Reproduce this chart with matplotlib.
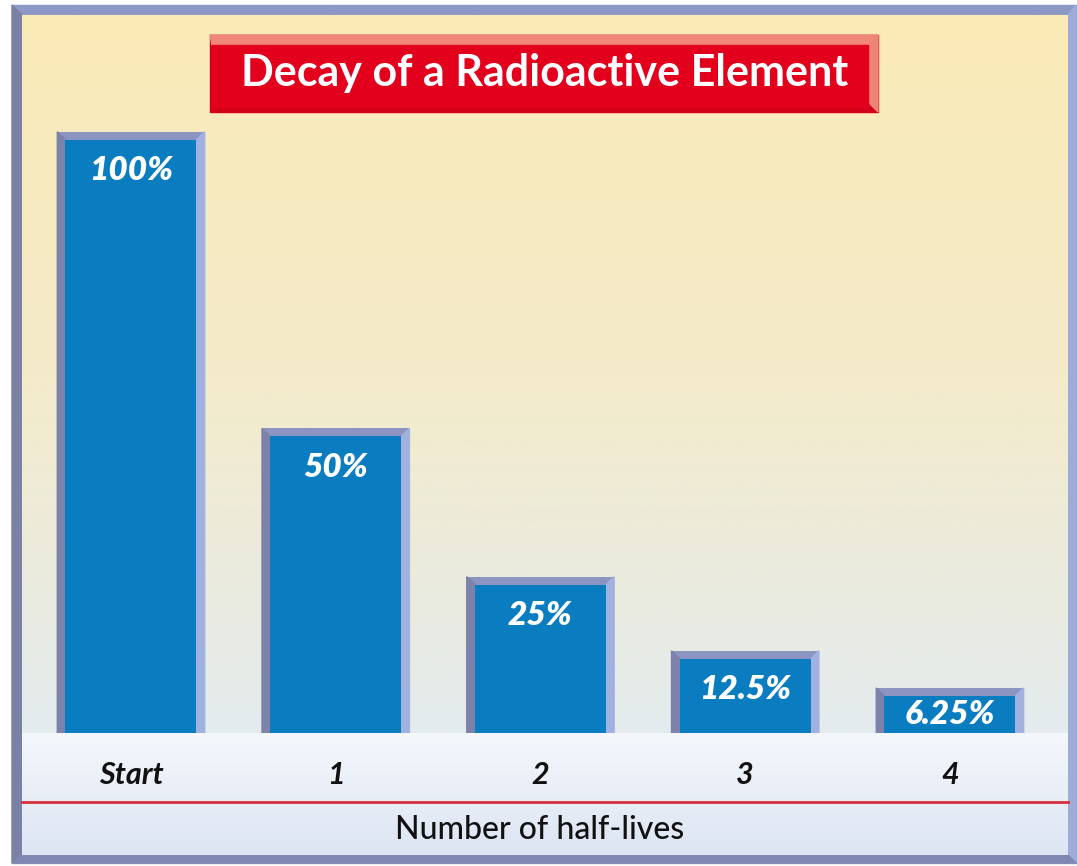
import matplotlib.pyplot as plt
import numpy as np
from matplotlib.colors import LinearSegmentedColormap
from matplotlib.patches import Rectangle, Polygon

plt.rcParams['font.family'] = ['Lato', 'DejaVu Sans']

# Fraction of the original element left after each half-life
steps = ['Start', '1', '2', '3', '4']
percent = [100, 50, 25, 12.5, 6.25]
value_labels = ['100%', '50%', '25%', '12.5%', '6.25%']

W, H = 1077, 866
fig = plt.figure(figsize=(W / 100, H / 100), dpi=100)

# background layer in pixel units (frame, gradients, title banner)
bg = fig.add_axes([0, 0, 1, 1])
bg.set_xlim(0, W)
bg.set_ylim(H, 0)
bg.axis('off')

bg.add_patch(Rectangle((0, 0), W, H, color='white', zorder=0))
# frame: darker on the left/bottom, lighter on top/right
bg.add_patch(Rectangle((12, 5), 1064, 858, color='#8e98c4', zorder=1))
bg.add_patch(Polygon([(12, 5), (22, 15), (22, 855), (12, 863)], color='#7a80a6', zorder=1))
bg.add_patch(Polygon([(1076, 5), (1068, 15), (1068, 855), (1076, 863)], color='#9eacda', zorder=1))
bg.add_patch(Polygon([(12, 863), (22, 855), (1068, 855), (1076, 863)], color='#8088b2', zorder=1))

upper = LinearSegmentedColormap.from_list('upper', ['#faeab6', '#f4ebca', '#e4ebee'])
lower = LinearSegmentedColormap.from_list('lower', ['#f4f7fb', '#e9eef7', '#dde5f3'])
grad = np.linspace(0, 1, 256).reshape(-1, 1)
bg.imshow(grad, cmap=upper, aspect='auto', extent=(22, 1068, 733, 15), zorder=2)
bg.imshow(grad, cmap=lower, aspect='auto', extent=(22, 1068, 855, 733), zorder=2)
bg.set_xlim(0, W)
bg.set_ylim(H, 0)

bg.plot([22, 1068], [802, 802], color='#d8303e', lw=2, zorder=3)

# title banner with bevelled top and right edges
bg.add_patch(Rectangle((210, 35), 668, 77, color='#d4001a', zorder=3))
bg.add_patch(Polygon([(210, 35), (878, 35), (868, 45), (212, 45)], color='#f0887a', zorder=4))
bg.add_patch(Polygon([(878, 35), (878, 112), (868, 102), (868, 45)], color='#ee8474', zorder=4))
bg.add_patch(Rectangle((212, 45), 656, 62, color='#e2001c', zorder=4))
bg.text(545, 73, 'Decay of a Radioactive Element', color='white', fontsize=31,
        fontweight='bold', ha='center', va='center', zorder=5)

bg.text(540, 830, 'Number of half-lives', color='#111111', fontsize=23,
        fontweight='medium', ha='center', va='center', zorder=5)

# bar chart
ax = fig.add_axes([20 / W, 133 / H, 1044 / W, 719 / H])
ax.patch.set_alpha(0)
for s in ax.spines.values():
    s.set_visible(False)
ax.set_xlim(-0.542, 4.557)
ax.set_ylim(0, 121.2)
ax.set_yticks([])

x = np.arange(len(steps))
outer_w, inner_w = 0.72, 0.64
bevel_y = 1.35

ax.bar(x, [p + bevel_y for p in percent], width=outer_w, color='#8c94c2', zorder=2)
for xi, p in zip(x, percent):
    ax.add_patch(Polygon([(xi - outer_w / 2, 0), (xi - outer_w / 2, p + bevel_y),
                          (xi - inner_w / 2, p), (xi - inner_w / 2, 0)],
                         color='#7c82aa', zorder=3))
    ax.add_patch(Polygon([(xi + outer_w / 2, 0), (xi + outer_w / 2, p + bevel_y),
                          (xi + inner_w / 2, p), (xi + inner_w / 2, 0)],
                         color='#a2b2e0', zorder=3))
ax.bar(x, percent, width=inner_w, color='#0a7dc0', zorder=4)

for xi, p, lab in zip(x, percent, value_labels):
    ax.text(xi, max(p - 5.2, p / 2), lab, color='white', fontsize=24,
            fontweight='heavy', fontstyle='italic', ha='center', va='center', zorder=5)

ax.set_xticks(x)
ax.set_xticklabels(steps, fontsize=22, fontstyle='italic', fontweight='bold',
                   color='#111111', va='center')
ax.tick_params(axis='x', length=0, pad=30)

fig.savefig('out.png', dpi=100)
